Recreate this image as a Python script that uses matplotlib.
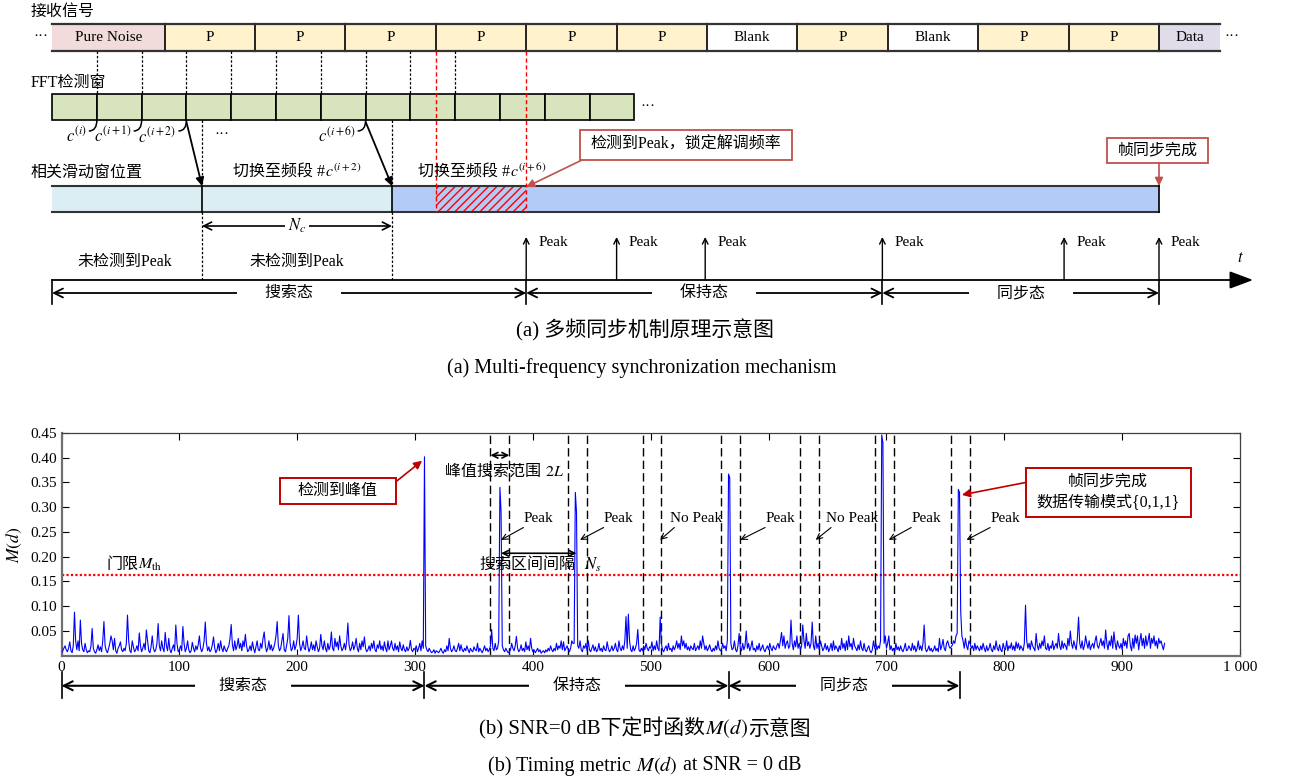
import matplotlib
matplotlib.use('Agg')
import matplotlib.pyplot as plt
import matplotlib.transforms as mtransforms
from matplotlib.patches import Rectangle, PathPatch
from matplotlib.path import Path
from matplotlib.offsetbox import TextArea, HPacker, AnnotationBbox
import numpy as np

plt.rcParams['font.family'] = ['Liberation Serif', 'Noto Sans CJK SC']
plt.rcParams['mathtext.fontset'] = 'stix'
plt.rcParams['hatch.linewidth'] = 1.0

# ---------------- (a) diagram content ----------------
signal_labels = ['Pure Noise', 'P', 'P', 'P', 'P', 'P', 'P', 'Blank', 'P', 'Blank', 'P', 'P', 'Data']
seg_colors = {'Pure Noise': '#F2DCDB', 'P': '#FFF2CC', 'Blank': 'white', 'Data': '#E0DCEA'}
fft_windows = 13
c_labels = ['$c^{(i)}$', '$c^{(i+1)}$', '$c^{(i+2)}$', '$c^{(i+6)}$']
c_window_idx = [1, 2, 3, 7]
peak_slots = [4, 5, 5.98, 7.94, 9.95, 11]
state_names = ['搜索态', '保持态', '同步态']
state_slots = [-1.245, 4, 7.94, 11]

# ---------------- (b) timing metric M(d), in 1e-3 ----------------
m_milli = [
    5, 10, 15, 20, 12, 8, 15, 28, 10, 6, 20, 88, 30, 12, 30, 10, 72, 25, 12, 8,
    25, 12, 6, 10, 8, 20, 55, 15, 8, 5, 12, 22, 10, 18, 8, 30, 69, 20, 10, 6,
    15, 25, 40, 30, 12, 35, 10, 5, 15, 20, 28, 12, 8, 15, 10, 25, 82, 30, 10, 6,
    30, 18, 8, 12, 20, 10, 46, 20, 8, 15, 25, 12, 52, 30, 10, 6, 18, 40, 15, 8,
    12, 25, 65, 20, 10, 30, 15, 8, 47, 20, 10, 35, 12, 6, 15, 22, 10, 62, 25, 8,
    12, 20, 10, 59, 25, 8, 15, 30, 12, 6, 10, 27, 15, 8, 20, 12, 22, 40, 15, 8,
    15, 30, 68, 25, 10, 18, 8, 12, 22, 38, 15, 6, 12, 25, 10, 30, 15, 8, 20, 12,
    8, 15, 20, 35, 63, 22, 10, 30, 12, 20, 35, 15, 25, 10, 30, 18, 43, 20, 8, 12,
    20, 10, 28, 15, 6, 18, 30, 12, 10, 25, 15, 35, 48, 20, 8, 15, 30, 12, 22, 10,
    15, 25, 40, 69, 20, 10, 15, 30, 45, 12, 8, 20, 35, 81, 25, 10, 15, 30, 12, 20,
    35, 82, 25, 10, 18, 30, 15, 12, 40, 20, 8, 15, 28, 12, 22, 10, 30, 18, 8, 15,
    43, 20, 12, 30, 15, 8, 25, 12, 20, 48, 15, 10, 35, 18, 28, 12, 40, 20, 10, 15,
    25, 12, 30, 66, 22, 10, 15, 28, 12, 20, 35, 15, 8, 25, 12, 30, 18, 38, 15, 8,
    12, 20, 10, 25, 15, 30, 12, 8, 22, 15, 30, 12, 20, 10, 28, 15, 8, 30, 12, 20,
    30, 15, 10, 25, 12, 20, 8, 28, 15, 10, 22, 12, 8, 18, 10, 15, 31, 12, 8, 15,
    12, 20, 8, 15, 25, 10, 30, 15, 402, 20, 12, 8, 15, 10, 6, 8, 12, 5, 10, 8,
    6, 10, 15, 8, 5, 12, 8, 20, 10, 35, 15, 8, 12, 20, 10, 8, 15, 25, 10, 22,
    12, 8, 15, 10, 20, 12, 6, 15, 10, 8, 18, 12, 10, 25, 8, 15, 10, 6, 12, 20,
    10, 15, 8, 12, 20, 53, 15, 10, 25, 12, 15, 30, 340, 290, 20, 12, 8, 15, 10, 6,
    8, 12, 25, 15, 10, 20, 39, 15, 8, 12, 22, 10, 15, 8, 28, 12, 20, 10, 35, 15,
    8, 12, 6, 10, 15, 8, 12, 5, 8, 10, 6, 12, 8, 15, 10, 20, 12, 8, 15, 10,
    25, 12, 20, 15, 30, 12, 28, 10, 15, 20, 12, 8, 15, 30, 25, 25, 330, 290, 20, 15,
    30, 12, 8, 20, 15, 25, 10, 30, 12, 8, 15, 22, 10, 18, 8, 12, 25, 10, 15, 8,
    20, 12, 10, 28, 15, 8, 12, 20, 10, 15, 25, 12, 8, 30, 15, 10, 20, 12, 30, 79,
    15, 84, 30, 12, 8, 20, 10, 15, 25, 53, 12, 8, 15, 10, 20, 12, 25, 15, 10, 18,
    15, 28, 10, 20, 12, 30, 15, 10, 78, 25, 12, 8, 15, 20, 10, 25, 12, 15, 8, 20,
    12, 18, 30, 15, 25, 12, 40, 20, 30, 15, 25, 12, 18, 10, 20, 15, 12, 25, 10, 15,
    20, 12, 30, 15, 40, 25, 12, 20, 10, 15, 22, 12, 8, 15, 10, 20, 12, 30, 15, 10,
    12, 25, 15, 20, 10, 30, 367, 360, 25, 12, 15, 30, 12, 8, 20, 45, 15, 10, 25, 12,
    20, 50, 15, 25, 10, 18, 30, 12, 15, 8, 20, 12, 25, 10, 15, 22, 12, 8, 15, 20,
    12, 25, 15, 10, 20, 15, 12, 20, 25, 15, 30, 47, 20, 40, 15, 25, 30, 15, 20, 72,
    25, 12, 30, 18, 40, 15, 25, 12, 20, 62, 30, 15, 45, 20, 28, 15, 25, 68, 20, 12,
    40, 15, 25, 12, 30, 20, 10, 15, 25, 12, 20, 8, 15, 25, 10, 30, 12, 20, 15, 8,
    20, 12, 35, 15, 25, 10, 30, 12, 40, 18, 25, 12, 35, 20, 15, 10, 22, 12, 30, 15,
    10, 25, 12, 8, 15, 20, 10, 6, 12, 30, 15, 25, 12, 20, 15, 30, 446, 430, 25, 40,
    15, 25, 40, 12, 20, 10, 15, 8, 25, 12, 18, 10, 20, 12, 8, 15, 25, 10, 12, 20,
    15, 10, 25, 12, 20, 8, 15, 30, 12, 20, 10, 25, 62, 15, 8, 12, 20, 10, 15, 8,
    12, 20, 10, 15, 8, 35, 12, 20, 33, 15, 10, 25, 30, 20, 15, 18, 22, 30, 25, 40,
    45, 336, 330, 90, 40, 30, 15, 35, 20, 12, 30, 25, 15, 20, 10, 25, 12, 20, 15, 10,
    20, 12, 25, 15, 8, 20, 10, 15, 25, 12, 8, 20, 12, 30, 15, 10, 22, 12, 8, 25,
    15, 12, 30, 10, 20, 15, 26, 12, 20, 10, 28, 15, 25, 12, 20, 15, 10, 25, 102, 30,
    15, 25, 12, 30, 20, 15, 10, 45, 20, 12, 25, 15, 30, 20, 40, 15, 12, 25, 10, 20,
    15, 30, 12, 20, 25, 15, 45, 20, 12, 30, 15, 25, 20, 12, 35, 20, 50, 25, 15, 30,
    20, 12, 35, 78, 25, 15, 30, 12, 20, 40, 25, 15, 30, 12, 20, 25, 15, 30, 40, 20,
    15, 25, 35, 20, 30, 15, 52, 25, 12, 30, 20, 40, 15, 48, 25, 12, 30, 20, 15, 25,
    12, 35, 20, 30, 15, 40, 45, 20, 10, 35, 15, 42, 25, 40, 12, 30, 45, 20, 35, 15,
    40, 20, 30, 45, 15, 35, 25, 40, 20, 30, 15, 35, 25, 30, 20, 12, 25,
]
threshold = 0.164
search_left = [364, 430, 493, 560, 627, 690, 755]
search_width = 16
pointer_tips = [373, 440, 508, 576, 640, 702, 768]
pointer_from = [392, 460, 520, 597, 653, 721, 788]
pointer_labels = ['Peak', 'Peak', 'No Peak', 'Peak', 'No Peak', 'Peak', 'Peak']
state_bounds = [0, 308, 566, 762]


def mixed(ax, x, y, parts, align=(0.5, 0.5), size=11, coords='data'):
    boxes = [TextArea(p, textprops=dict(fontsize=size)) for p in parts]
    pack = HPacker(children=boxes, align='baseline', pad=0, sep=0)
    ab = AnnotationBbox(pack, (x, y), xycoords=coords, box_alignment=align,
                        frameon=False, pad=0)
    ax.add_artist(ab)


fig = plt.figure(figsize=(12.89, 7.80), dpi=100)

# overlay in pixel units for the schematic
ax0 = fig.add_axes([0, 0, 1, 1])
ax0.set_xlim(0, 1289)
ax0.set_ylim(780, 0)
ax0.axis('off')

X0, W = 164.6, 90.4
def sx(s):
    return X0 + s * W

fs = 11
# row 1: received signal
ax0.text(31, 12, '接收信号', fontsize=11.5, va='center')
edges = [-1.245] + list(range(12)) + [11.68]
for lab, a, b in zip(signal_labels, edges[:-1], edges[1:]):
    xa, xb = sx(a), sx(b)
    ax0.add_patch(Rectangle((xa, 24), xb - xa, 27, facecolor=seg_colors[lab], edgecolor='none'))
    ax0.plot([xa, xb], [24, 24], color='#333333', lw=1.6)
    ax0.plot([xa, xb], [51, 51], color='#333333', lw=1.6)
    if lab != 'Data':
        ax0.plot([xb, xb], [24, 51], color='k', lw=1.2)
    ax0.text((xa + xb) / 2, 37.5, lab, ha='center', va='center', fontsize=fs)
ax0.text(sx(-1.245) - 4, 37, '···', ha='right', va='center', fontsize=fs)
ax0.text(sx(11.68) + 4, 37, '···', ha='left', va='center', fontsize=fs)

# row 2: FFT windows
ax0.text(31, 83, 'FFT检测窗', fontsize=11.5, va='center')
fx0, fw = sx(-1.245), 44.8
for k in range(fft_windows):
    ax0.add_patch(Rectangle((fx0 + k * fw, 94), fw, 26, facecolor='#D7E4BD', edgecolor='k', lw=1.2))
ax0.text(fx0 + fft_windows * fw + 6, 106, '···', ha='left', va='center', fontsize=fs)
for k in range(1, 10):
    xk = fx0 + k * fw
    ax0.plot([xk, xk], [51, 94], color='k', ls=(0, (2, 1.5)), lw=0.9)

for idx, lab in zip(c_window_idx, c_labels):
    xk = fx0 + idx * fw
    p = Path([(xk, 120), (xk, 131), (xk - 8, 131)], [Path.MOVETO, Path.CURVE3, Path.CURVE3])
    ax0.add_patch(PathPatch(p, facecolor='none', edgecolor='k', lw=1.1))
    ax0.text(xk - 10, 136, lab, ha='right', va='center', fontsize=12)
ax0.text(222, 135, '···', ha='center', va='center', fontsize=fs)

# sliding correlation window
ax0.text(31, 173, '相关滑动窗位置', fontsize=11.5, va='center')
bar_edges = [fx0, 202, 392, sx(11)]
bar_colors = ['#DBEEF4', '#DBEEF4', '#B3CBF7']
for a, b, c in zip(bar_edges[:-1], bar_edges[1:], bar_colors):
    ax0.add_patch(Rectangle((a, 186), b - a, 26, facecolor=c, edgecolor='none'))
    ax0.plot([a, b], [186, 186], color='#333333', lw=1.5)
    ax0.plot([a, b], [212, 212], color='#333333', lw=1.5)
for b in bar_edges[1:]:
    ax0.plot([b, b], [186, 212], color='k', lw=1.2)
ax0.add_patch(Rectangle((sx(3), 186.8), W, 24.5, facecolor='#B3CBF7', edgecolor='red',
                        lw=0, hatch='////'))
for xr in (sx(3), sx(4)):
    ax0.plot([xr, xr], [51, 212], color='red', ls=(0, (3, 2)), lw=1.0)
for xd in (202, 392):
    ax0.plot([xd, xd], [120, 280], color='k', ls=(0, (2, 1.5)), lw=0.9, zorder=0.5)

ax0.annotate('', xy=(202, 186), xytext=(fx0 + 3 * fw, 122),
             arrowprops=dict(arrowstyle='-|>', color='k', lw=1.3, shrinkA=0, shrinkB=0, mutation_scale=12))
ax0.annotate('', xy=(392, 186), xytext=(fx0 + 7 * fw, 122),
             arrowprops=dict(arrowstyle='-|>', color='k', lw=1.3, shrinkA=0, shrinkB=0, mutation_scale=12))
mixed(ax0, 297, 172, ['切换至频段 #', '$c^{(i+2)}$'], size=11.5)
mixed(ax0, 482, 172, ['切换至频段 #', '$c^{(i+6)}$'], size=11.5)

red_a = '#C0504D'
ax0.add_patch(Rectangle((580, 130), 212, 30, facecolor='white', edgecolor=red_a, lw=1.3))
ax0.text(686, 145, '检测到Peak，锁定解调频率', ha='center', va='center', fontsize=11.5)
ax0.annotate('', xy=(sx(4), 187), xytext=(582, 160),
             arrowprops=dict(arrowstyle='-|>', color=red_a, lw=1.2, shrinkA=0, shrinkB=0, mutation_scale=12))
ax0.add_patch(Rectangle((1107, 138), 101, 25, facecolor='white', edgecolor=red_a, lw=1.3))
ax0.text(1157.5, 150.5, '帧同步完成', ha='center', va='center', fontsize=11.5)
ax0.annotate('', xy=(sx(11), 186), xytext=(sx(11), 163),
             arrowprops=dict(arrowstyle='-|>', color=red_a, lw=1.2, shrinkA=0, shrinkB=0, mutation_scale=12))

# N_c
ax0.annotate('', xy=(202, 226), xytext=(392, 226),
             arrowprops=dict(arrowstyle='<->', color='k', lw=1.2, shrinkA=0, shrinkB=0, mutation_scale=14))
ax0.text(297, 226, '$N_c$', ha='center', va='center', fontsize=12,
         bbox=dict(facecolor='white', edgecolor='none', pad=2))

ax0.text(125, 262, '未检测到Peak', ha='center', va='center', fontsize=11.5)
ax0.text(297, 262, '未检测到Peak', ha='center', va='center', fontsize=11.5)

# time axis
ax0.annotate('', xy=(1253, 280), xytext=(fx0, 280),
             arrowprops=dict(arrowstyle='-|>,head_length=0.8,head_width=0.3', color='k', lw=1.3,
                             shrinkA=0, shrinkB=0, mutation_scale=18))
ax0.text(1240, 258, '$t$', ha='center', va='center', fontsize=12)
for s in peak_slots:
    xp = sx(s)
    ax0.annotate('', xy=(xp, 237), xytext=(xp, 280),
                 arrowprops=dict(arrowstyle='->', color='k', lw=1.0, shrinkA=0, shrinkB=0))
    ax0.text(xp + 12, 243, 'Peak', ha='left', va='center', fontsize=fs)

sb = [sx(s) for s in state_slots]
for xb in sb:
    ax0.plot([xb, xb], [280, 304], color='k', lw=1.2)
for name, a, b in zip(state_names, sb[:-1], sb[1:]):
    ax0.annotate('', xy=(a, 293), xytext=(b, 293),
                 arrowprops=dict(arrowstyle='<->', color='k', lw=1.3, shrinkA=0, shrinkB=0, mutation_scale=16))
    ax0.text((a + b) / 2, 293, '       ' + name + '       ', ha='center', va='center', fontsize=11.5,
             bbox=dict(facecolor='white', edgecolor='none', pad=0))

cap = 15
mixed(ax0, 645, 330, ['(a) 多频同步机制原理示意图'], size=cap)
mixed(ax0, 642, 368, ['(a) Multi-frequency synchronization mechanism'], size=14.5)
mixed(ax0, 645, 729, ['(b) SNR=0 dB下定时函数', '$M(d)$', '示意图'], size=cap)
mixed(ax0, 645, 765, ['(b) Timing metric ', '$M(d)$', ' at SNR = 0 dB'], size=14.5)

# ---------------- (b) chart ----------------
ax = fig.add_axes([61.5 / 1289, (780 - 655.7) / 780, 1178.5 / 1289, 222.7 / 780])
d = np.arange(len(m_milli))
m = np.array(m_milli) / 1000.0
ax.plot(d, m, color='#0000FF', lw=0.8, zorder=3)
ax.axhline(threshold, color='red', ls=(0, (1, 1)), lw=1.6, zorder=2)
for left in search_left:
    for xv in (left, left + search_width):
        ax.axvline(xv, color='k', ls=(0, (6, 3)), lw=1.0, zorder=2)

ax.set_xlim(0, 1000)
ax.set_ylim(0, 0.45)
ax.set_xticks(np.arange(0, 1001, 100))
ax.set_xticklabels([str(v) if v < 1000 else '1 000' for v in range(0, 1001, 100)])
ax.set_yticks(np.arange(0.05, 0.451, 0.05))
ax.set_yticklabels(['%.2f' % v for v in np.arange(0.05, 0.451, 0.05)])
ax.tick_params(direction='in', length=5, top=True, right=True, labelsize=11, width=0.8)
ax.set_ylabel('$M(d)$', fontsize=12.5, labelpad=4)
for side in ('top', 'right'):
    ax.spines[side].set_color('#404040')
    ax.spines[side].set_linewidth(0.9)
for side in ('bottom', 'left'):
    ax.spines[side].set_color('#707070')
    ax.spines[side].set_linewidth(1.6)

for tip, st, lab in zip(pointer_tips, pointer_from, pointer_labels):
    ax.annotate('', xy=(tip, 0.234), xytext=(st, 0.259),
                arrowprops=dict(arrowstyle='->', color='k', lw=0.8, shrinkA=0, shrinkB=0))
    ax.text(st - (4 if lab != 'Peak' else 0), 0.277, lab, ha='left', va='center', fontsize=11)

# 2L and N_s
ax.annotate('', xy=(search_left[0], 0.405), xytext=(search_left[0] + search_width, 0.405),
            arrowprops=dict(arrowstyle='<->', color='k', lw=1.2, shrinkA=0, shrinkB=0, mutation_scale=10))
mixed(ax, 325.7, 0.372, ['峰值搜索范围 ', '$2L$'], align=(0, 0.5), size=11.5)
ax.annotate('', xy=(373, 0.207), xytext=(437, 0.207),
            arrowprops=dict(arrowstyle='<->', color='k', lw=1.2, shrinkA=0, shrinkB=0, mutation_scale=10))
ax.text(395, 0.183, '搜索区间间隔', ha='center', va='center', fontsize=11.5)
ax.text(451, 0.183, '$N_s$', ha='center', va='center', fontsize=12)
mixed(ax, 38, 0.183, ['门限', r'$M_{\mathrm{th}}$'], align=(0, 0.5), size=11.5)

red_b = '#C00000'
ax.add_patch(Rectangle((185, 0.306), 99, 0.054, facecolor='white', edgecolor=red_b, lw=1.4, zorder=4))
ax.text(234.5, 0.333, '检测到峰值', ha='center', va='center', fontsize=11.5, zorder=5)
ax.annotate('', xy=(306, 0.394), xytext=(284, 0.352),
            arrowprops=dict(arrowstyle='-|>', color=red_b, lw=1.2, shrinkA=0, shrinkB=0, mutation_scale=12))
ax.add_patch(Rectangle((818, 0.281), 140, 0.099, facecolor='white', edgecolor=red_b, lw=1.4, zorder=4))
ax.text(888, 0.352, '帧同步完成', ha='center', va='center', fontsize=11.5, zorder=5)
ax.text(888, 0.311, '数据传输模式{0,1,1}', ha='center', va='center', fontsize=11.5, zorder=5)
ax.annotate('', xy=(764, 0.325), xytext=(818, 0.35),
            arrowprops=dict(arrowstyle='-|>', color=red_b, lw=1.2, shrinkA=0, shrinkB=0, mutation_scale=12),
            zorder=5)

# states under the x axis
trans = mtransforms.blended_transform_factory(ax.transData, ax.transAxes)
for xb in state_bounds:
    ax.plot([xb, xb], [-0.072, -0.19], transform=trans, color='k', lw=1.2, clip_on=False)
for name, a, b in zip(state_names, state_bounds[:-1], state_bounds[1:]):
    ax.annotate('', xy=(a, -0.135), xytext=(b, -0.135), xycoords=trans, textcoords=trans,
                arrowprops=dict(arrowstyle='<->', color='k', lw=1.5, shrinkA=0, shrinkB=0, mutation_scale=16),
                annotation_clip=False)
    ax.text((a + b) / 2, -0.135, '      ' + name + '      ', transform=trans, ha='center', va='center',
            fontsize=11.5, bbox=dict(facecolor='white', edgecolor='none', pad=0))

fig.savefig('out.png', dpi=100)
